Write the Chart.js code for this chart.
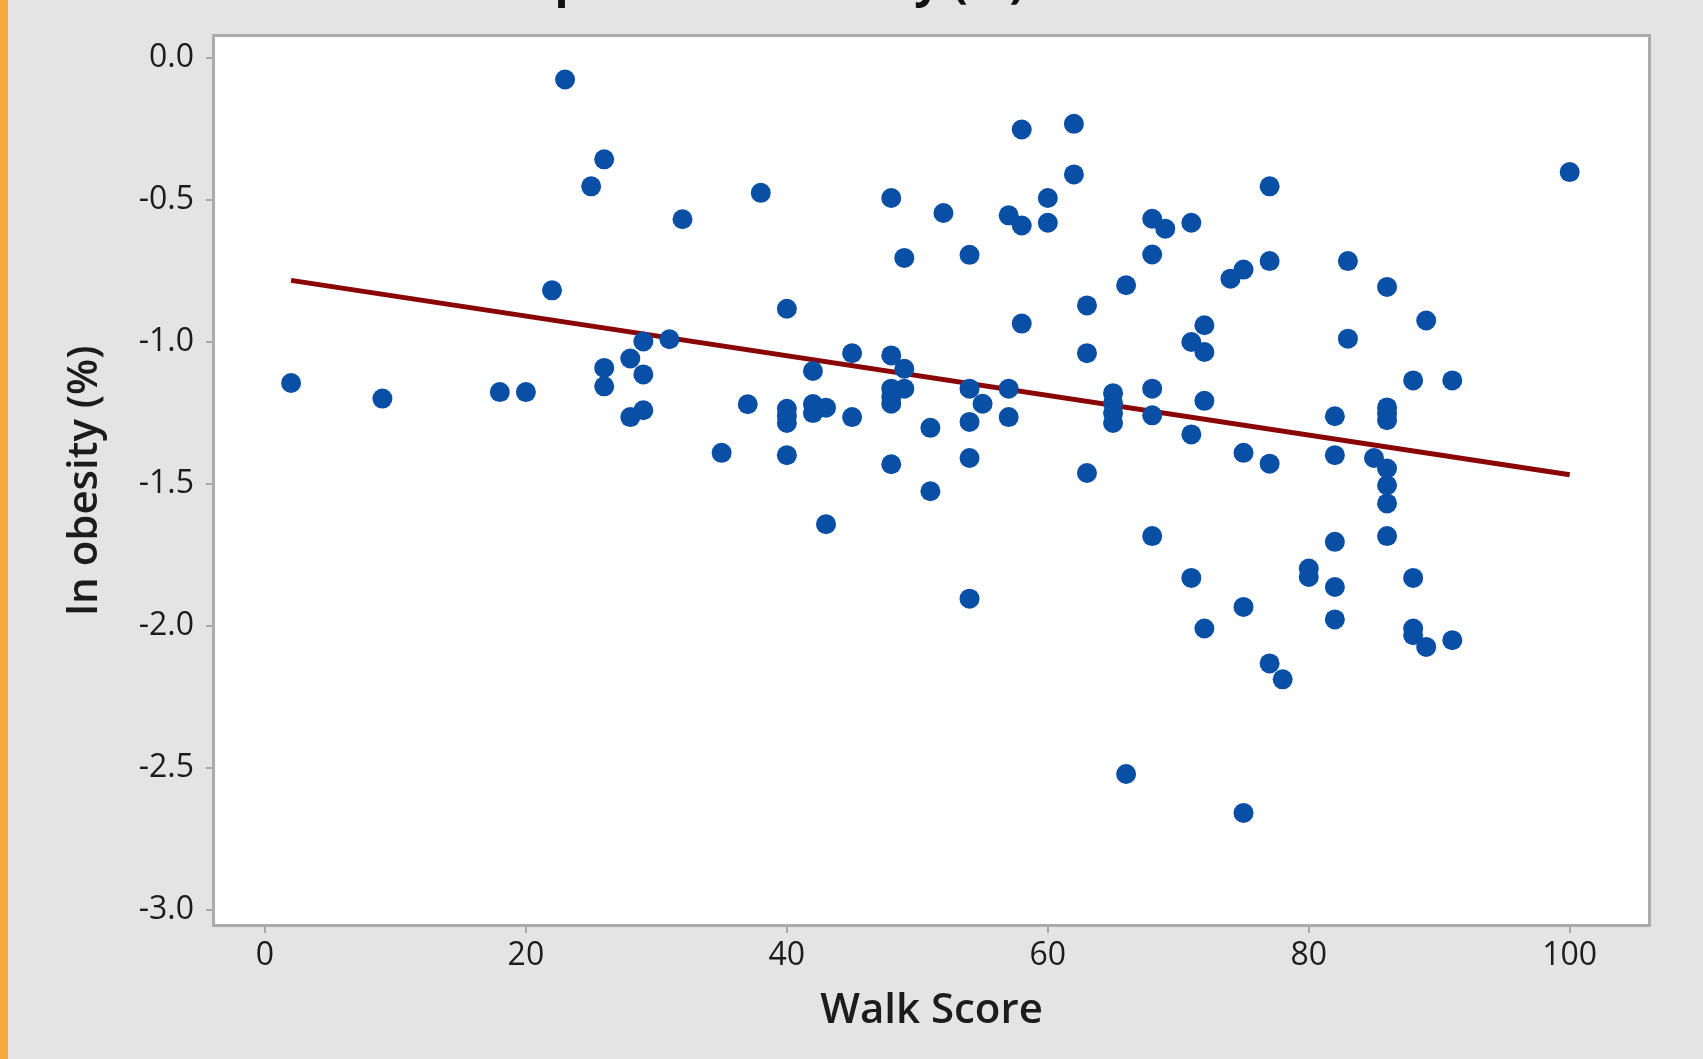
<!DOCTYPE html>
<html>
<head>
<meta charset="utf-8">
<title>Scatterplot of ln obesity (%) vs Walk Score</title>
<script src="https://cdn.jsdelivr.net/npm/chart.js@4.4.1/dist/chart.umd.min.js"></script>
<style>
  html, body { margin: 0; padding: 0; width: 1703px; height: 1059px; overflow: hidden; background: #e4e4e4; }
  #chart { position: absolute; left: 0; top: 0; }
  #accent { position: absolute; left: 0; top: 0; width: 8px; height: 1059px; background: #f9a83e; z-index: 2; }
</style>
</head>
<body>
<canvas id="chart" width="1703" height="1059"></canvas>
<div id="accent"></div>
<script>
// Walk Score of each city and its log obesity rate
const walkScore = [
  2, 9, 18, 20, 22, 23, 25, 26, 26, 26,
  28, 28, 29, 29, 29, 31, 32, 35, 37, 38,
  40, 40, 40, 40, 40, 42, 42, 42, 43, 43,
  45, 45, 48, 48, 48, 48, 48, 48, 49, 49,
  49, 51, 51, 52, 54, 54, 54, 54, 54, 55,
  57, 57, 57, 58, 58, 58, 60, 60, 62, 62,
  63, 63, 63, 65, 65, 65, 65, 66, 66, 68,
  68, 68, 68, 68, 69, 71, 71, 71, 71, 72,
  72, 72, 72, 74, 75, 75, 75, 75, 77, 77,
  77, 77, 78, 80, 80, 82, 82, 82, 82, 82,
  83, 83, 85, 86, 86, 86, 86, 86, 86, 86,
  86, 88, 88, 88, 88, 89, 89, 91, 91, 100
];
const lnObesity = [
  -1.144, -1.199, -1.176, -1.176, -0.818, -0.076, -0.452, -0.357, -1.091, -1.156,
  -1.058, -1.264, -0.998, -1.114, -1.240, -0.990, -0.568, -1.390, -1.219, -0.475,
  -0.883, -1.235, -1.260, -1.285, -1.398, -1.102, -1.218, -1.250, -1.231, -1.641,
  -1.039, -1.264, -0.493, -1.047, -1.164, -1.193, -1.217, -1.430, -0.704, -1.094,
  -1.164, -1.302, -1.525, -0.546, -0.693, -1.164, -1.281, -1.408, -1.903, -1.217,
  -0.554, -1.164, -1.264, -0.252, -0.590, -0.935, -0.493, -0.580, -0.232, -0.410,
  -0.871, -1.039, -1.461, -1.180, -1.215, -1.250, -1.285, -0.800, -2.520, -0.566,
  -0.692, -1.164, -1.258, -1.683, -0.601, -0.580, -1.000, -1.325, -1.830, -0.941,
  -1.035, -1.207, -2.008, -0.777, -0.745, -1.390, -1.932, -2.657, -0.452, -0.715,
  -1.428, -2.131, -2.187, -1.797, -1.827, -1.261, -1.398, -1.703, -1.862, -1.976,
  -0.715, -0.988, -1.408, -0.806, -1.230, -1.252, -1.275, -1.445, -1.504, -1.568,
  -1.683, -1.135, -1.830, -2.008, -2.032, -0.924, -2.073, -1.135, -2.049, -0.402
];

// Fitted regression line, end points
const fitWalk = [2, 100];
const fitLn = [-0.783, -1.467];

// Axis ticks
const xTicks = [0, 20, 40, 60, 80, 100];
const yTicks = [0.0, -0.5, -1.0, -1.5, -2.0, -2.5, -3.0];

const chartTitle = 'Scatterplot of ln obesity (%) vs Walk Score';

const points = walkScore.map((w, i) => ({ x: w, y: lnObesity[i] }));
const fitLine = fitWalk.map((w, i) => ({ x: w, y: fitLn[i] }));

const FONT = "'Open Sans', 'Noto Sans', 'DejaVu Sans', sans-serif";

// White plotting area with a grey frame round it, and the heading above
const plotFrame = {
  id: 'plotFrame',
  beforeDatasetsDraw(chart) {
    const { ctx, chartArea: a } = chart;
    ctx.save();
    ctx.fillStyle = '#ffffff';
    ctx.fillRect(a.left, a.top, a.right - a.left, a.bottom - a.top);
    ctx.restore();
  },
  afterDraw(chart) {
    const { ctx, chartArea: a } = chart;
    ctx.save();
    ctx.strokeStyle = '#ababab';
    ctx.lineWidth = 3;
    ctx.strokeRect(a.left - 1.5, a.top - 1.5, a.right - a.left + 3, a.bottom - a.top + 3);
    // heading sits at the very top edge of the page
    ctx.fillStyle = '#111111';
    ctx.font = "bold 46px " + FONT;
    ctx.textAlign = 'center';
    ctx.textBaseline = 'alphabetic';
    ctx.fillText(chartTitle, 870, -3);
    ctx.restore();
  }
};

new Chart(document.getElementById('chart'), {
  type: 'scatter',
  data: {
    datasets: [
      {
        label: 'ln obesity (%)',
        data: points,
        pointRadius: 10,
        pointHoverRadius: 10,
        pointBackgroundColor: '#0a4fa6',
        pointBorderColor: '#0a4fa6',
        pointBorderWidth: 0,
        showLine: false
      },
      {
        type: 'line',
        label: 'Fit',
        data: fitLine,
        borderColor: '#8a0505',
        borderWidth: 5,
        pointRadius: 0,
        fill: false,
        tension: 0
      }
    ]
  },
  options: {
    responsive: false,
    animation: false,
    devicePixelRatio: 1,
    layout: { padding: { left: 0, right: 55, top: 37, bottom: 0 } },
    plugins: {
      legend: { display: false },
      tooltip: { enabled: false },
      title: { display: false }
    },
    scales: {
      x: {
        type: 'linear',
        min: -3.83,
        max: 106,
        afterBuildTicks: s => { s.ticks = xTicks.map(v => ({ value: v })); },
        afterFit: s => { s.height = 135; },
        border: { display: false },
        grid: { drawOnChartArea: false, drawTicks: true, tickLength: 9, color: '#a8a8a8', lineWidth: 2 },
        ticks: {
          color: '#1c1c1c',
          font: { family: FONT, size: 32 },
          padding: 4,
          maxRotation: 0,
          callback: v => String(v)
        },
        title: {
          display: true,
          text: 'Walk Score',
          color: '#1c1c1c',
          font: { family: FONT, size: 42, weight: '600' },
          padding: { top: 0, bottom: 23 }
        }
      },
      y: {
        type: 'linear',
        min: -3.048,
        max: 0.0735,
        afterBuildTicks: s => { s.ticks = yTicks.map(v => ({ value: v })); },
        afterFit: s => { s.width = 215; },
        border: { display: false },
        grid: { drawOnChartArea: false, drawTicks: true, tickLength: 9, color: '#a8a8a8', lineWidth: 2 },
        ticks: {
          color: '#1c1c1c',
          font: { family: FONT, size: 32 },
          padding: 12,
          callback: v => Number(v).toFixed(1)
        },
        title: {
          display: true,
          text: 'ln obesity (%)',
          color: '#1c1c1c',
          font: { family: FONT, size: 42, weight: '600' },
          padding: { top: 60, bottom: 0 }
        }
      }
    }
  },
  plugins: [plotFrame]
});
</script>
</body>
</html>
